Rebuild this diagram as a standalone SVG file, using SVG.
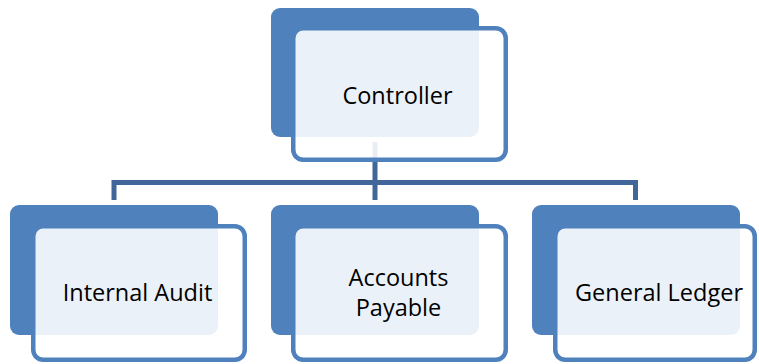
<svg xmlns="http://www.w3.org/2000/svg" width="759" height="364" viewBox="0 0 759 364">
<style>
.back{fill:#4F81BD}
.front{fill:#FFFFFF;fill-opacity:0.89;stroke:#4F81BD;stroke-width:4.5}
.lbl{font-family:"Open Sans","Liberation Sans",sans-serif;font-size:23.5px;fill:#000;text-anchor:middle}
.conn{fill:none;stroke:#41679A;stroke-width:5}
</style>
<rect width="759" height="364" fill="#FFFFFF"/>
<g id="connectors">
<path class="conn" d="M375 142 V200"/>
<path class="conn" d="M114 200 V182.5 H635.5 V200"/>
</g>
<g id="controller">
<rect class="back" x="271" y="8" width="208" height="129" rx="9"/>
<rect class="front" x="293.25" y="28.25" width="212.5" height="131.5" rx="10"/>
<text class="lbl" x="397.5" y="103.5">Controller</text>
</g>
<g id="internal-audit">
<rect class="back" x="10" y="205" width="208" height="130" rx="9"/>
<rect class="front" x="33.25" y="226.25" width="211.5" height="133.5" rx="10"/>
<text class="lbl" x="137.5" y="300.5">Internal Audit</text>
</g>
<g id="accounts-payable">
<rect class="back" x="271" y="205" width="208" height="130" rx="9"/>
<rect class="front" x="293.25" y="226.25" width="212.5" height="133.5" rx="10"/>
<text class="lbl" x="398.5" y="285.5">Accounts</text>
<text class="lbl" x="398.5" y="316">Payable</text>
</g>
<g id="general-ledger">
<rect class="back" x="532" y="205" width="208" height="130" rx="9"/>
<rect class="front" x="555.25" y="226.25" width="199.5" height="133.5" rx="10"/>
<text class="lbl" x="659" y="300.5">General Ledger</text>
</g>
</svg>
